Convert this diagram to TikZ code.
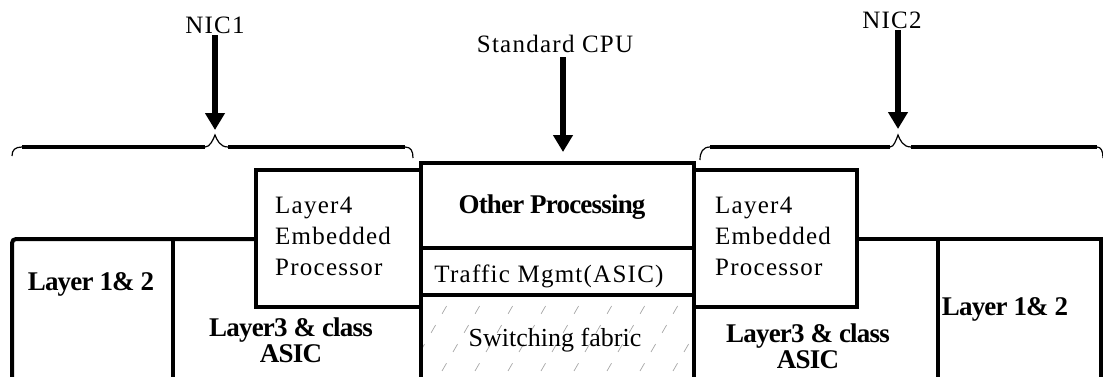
\documentclass[tikz,border=0pt]{standalone}
\usepackage{fontspec}
\setmainfont{Liberation Serif}
\newfontfamily\spacedfont[LetterSpace=5]{Liberation Serif}
\newfontfamily\tightfont[LetterSpace=-3]{Liberation Serif}
\usetikzlibrary{arrows.meta}

\begin{document}
\begin{tikzpicture}[x=1pt,y=-1pt,
  wall/.style={line width=4pt, line join=miter},
  bar/.style={line width=3.2pt},
  curl/.style={line width=1.2pt},
  hatch/.style={gray!70, line width=0.7pt, dash pattern=on 9pt off 13pt},
  bigarrow/.style={line width=6.5pt, -{Triangle[length=17pt, width=19pt]}},
  plain/.style={font=\spacedfont\fontsize{25}{31}\selectfont, inner sep=2pt},
  heavy/.style={font=\tightfont\bfseries\fontsize{27}{26}\selectfont, inner sep=0pt},
]
\useasboundingbox (0,0) rectangle (1103,376);

% hatching of the switching fabric
\begin{scope}
  \clip (421,295) rectangle (694,380);
  \foreach \i in {0,...,12}
    \draw[hatch] ({365+\i*33},390) -- ++(70,-121);
\end{scope}

% left NIC blocks
\draw[wall, rounded corners=4pt] (12,380) |- (256,239);
\draw[wall] (173,239) -- (173,380);
\draw[wall] (421,170) -- (256,170) -- (256,307) -- (421,307);

% central CPU stack
\draw[wall] (421,380) -- (421,163) -- (694,163) -- (694,380);
\draw[wall] (421,248) -- (694,248);
\draw[wall] (421,295) -- (694,295);

% right NIC blocks
\draw[wall] (694,170) -- (857,170) -- (857,307) -- (694,307);
\draw[wall] (857,239) -- (1101,239) -- (1101,380);
\draw[wall] (938,239) -- (938,380);

% braces over the two NICs
\coordinate (tip1) at (215,130);
\draw[curl] (12,156) .. controls (12,150) and (15,147) .. (22,147);
\draw[bar] (22,147) -- (205,147);
\draw[curl] (205,147) .. controls (210,147) and (213,140) .. (215,135)
            .. controls (217,140) and (220,147) .. (228,147);
\draw[bar] (228,147) -- (405,147);
\draw[curl] (405,147) .. controls (411,147) and (413,151) .. (413,158);

\coordinate (tip2) at (898,129);
\draw[curl] (700,160) .. controls (700,152) and (703,147) .. (710,147);
\draw[bar] (710,147) -- (890,147);
\draw[curl] (890,147) .. controls (894,147) and (896,140) .. (898,135)
            .. controls (900,140) and (903,147) .. (911,147);
\draw[bar] (911,147) -- (1097,147);
\draw[curl] (1097,147) .. controls (1101,147) and (1103,151) .. (1103,158);

\coordinate (tip3) at (563,152);

% labels and pointers
\node[plain, anchor=base] (nic1) at (215,33) {NIC1};
\node[plain, anchor=base] (cpu) at (555,52) {Standard CPU};
\node[plain, anchor=base] (nic2) at (892,28) {NIC2};
\draw[bigarrow] (nic1.south) -- (tip1);
\draw[bigarrow, shorten <=3pt] (cpu.south -| tip3) -- (tip3);
\draw[bigarrow] (nic2.south -| tip2) -- (tip2);

% block texts
\node[plain, inner sep=0pt, anchor=north west, align=left] (l4a) at (275,196.5)
  {Layer4\\Embedded\\Processor};
\node[plain, inner sep=0pt, anchor=north west, align=left] (l4b) at (715,196.5)
  {Layer4\\Embedded\\Processor};
\node[heavy, anchor=base] (l12a) at (91,290) {Layer 1\& 2};
\node[heavy, anchor=base] (l12b) at (1005,315) {Layer 1\& 2};
\node[heavy, anchor=north, align=center] (l3a) at (291,318) {Layer3 \& class\\ASIC};
\node[heavy, anchor=north, align=center] (l3b) at (808,324) {Layer3 \& class\\ASIC};
\node[heavy, anchor=base] (other) at (552,213) {Other Processing};
\node[plain, anchor=base] (tm) at (549,282) {Traffic Mgmt(ASIC)};
\node[font=\fontsize{26}{30}\selectfont, anchor=base] (sw) at (555,346) {Switching fabric};
\end{tikzpicture}
\end{document}
